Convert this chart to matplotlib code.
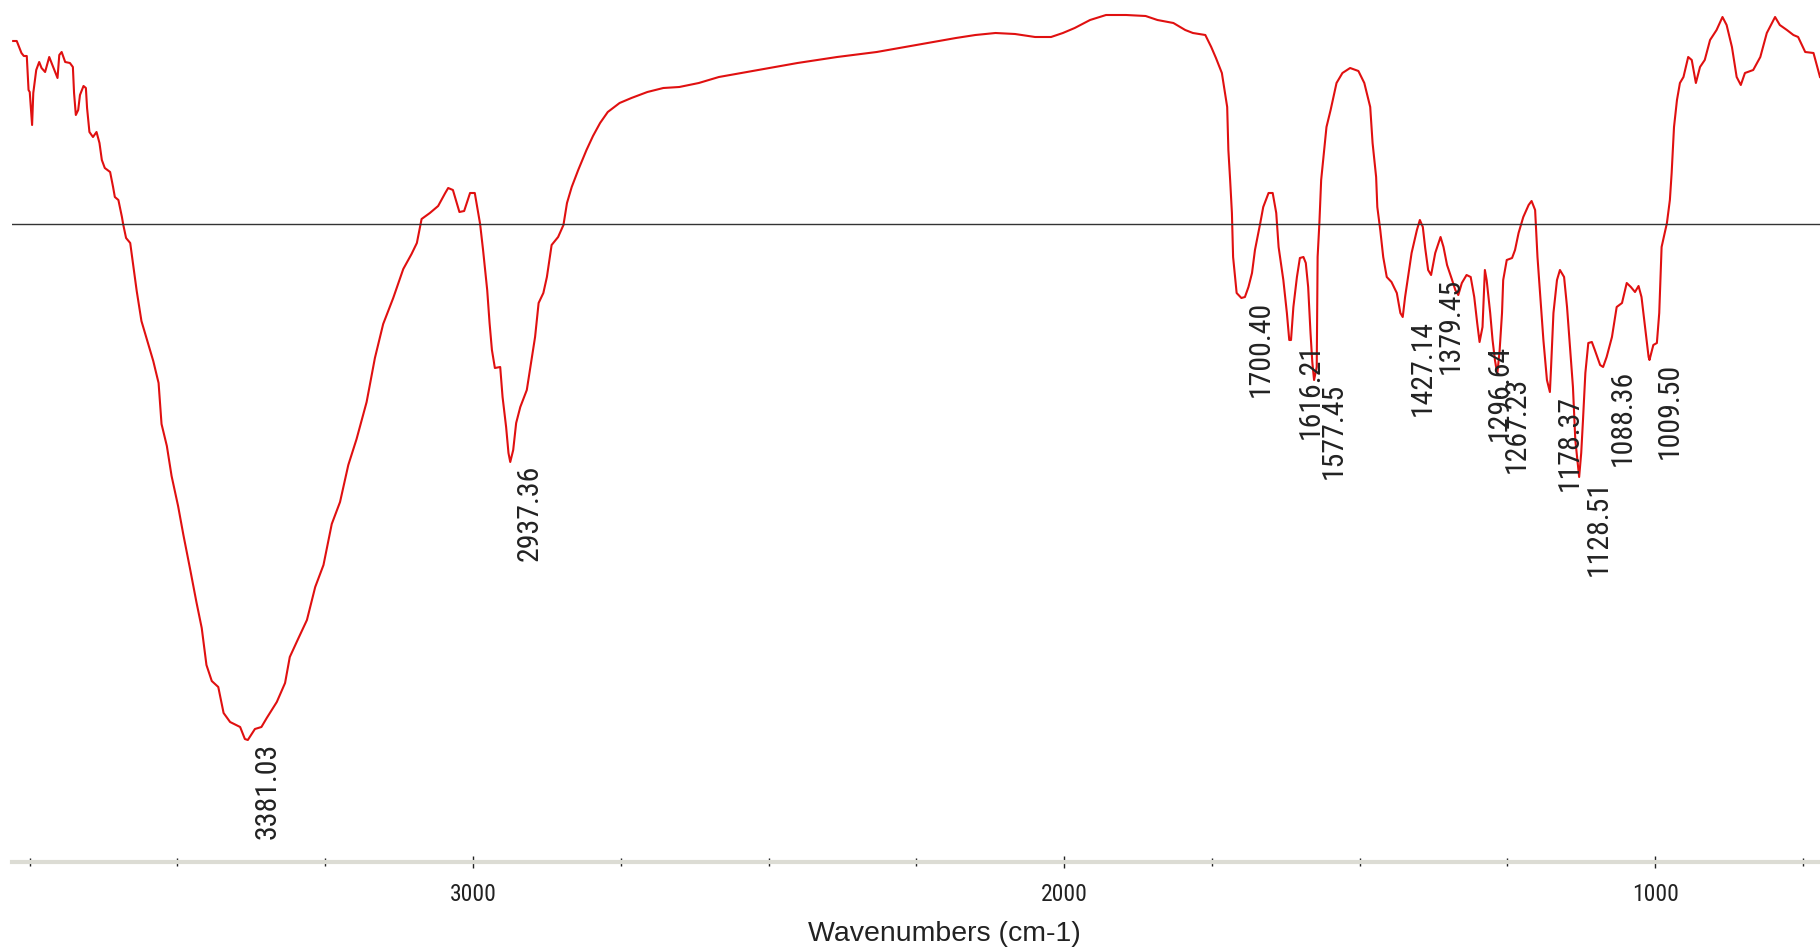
import matplotlib
matplotlib.use("Agg")
import matplotlib.pyplot as plt
from matplotlib import font_manager as fm

# FTIR spectrum (wavenumber cm-1, %T)
wavenumber = [
    3778, 3772, 3768, 3764, 3760, 3755, 3752, 3750, 3746, 3744, 3739, 3734, 3730, 3724,
    3717, 3713, 3707, 3703, 3700, 3696, 3690, 3682, 3677, 3675, 3672, 3668, 3665, 3659,
    3655, 3653, 3649, 3643, 3637, 3632, 3628, 3623, 3614, 3609, 3606, 3600, 3594, 3592,
    3587, 3580, 3575, 3569, 3561, 3552, 3541, 3532, 3527, 3518, 3510, 3499, 3490, 3479,
    3468, 3459, 3451, 3442, 3431, 3422, 3411, 3394, 3386, 3381, 3369, 3358, 3349, 3332,
    3318, 3310, 3296, 3281, 3267, 3253, 3239, 3225, 3211, 3197, 3180, 3166, 3152, 3135,
    3118, 3104, 3095, 3087, 3073, 3059, 3047, 3042, 3034, 3023, 3015, 3005, 2997, 2988,
    2983, 2976, 2972, 2968, 2963, 2954, 2950, 2944, 2940, 2937, 2932, 2927, 2920, 2909,
    2901, 2895, 2889, 2881, 2875, 2867, 2856, 2847, 2841, 2833, 2822, 2808, 2797, 2785,
    2772, 2752, 2732, 2705, 2678, 2651, 2618, 2584, 2517, 2451, 2384, 2317, 2250, 2183,
    2150, 2116, 2083, 2049, 2022, 2002, 1982, 1956, 1929, 1895, 1862, 1842, 1815, 1795,
    1782, 1761, 1751, 1743, 1733, 1724, 1722, 1719, 1716, 1714, 1708, 1700, 1694, 1688,
    1682, 1677, 1668, 1663, 1654, 1647, 1641, 1637, 1629, 1623, 1619, 1616, 1612, 1606,
    1601, 1595, 1591, 1587, 1583, 1580, 1577, 1572.5, 1571, 1568, 1565, 1556, 1549, 1539,
    1529, 1516, 1502, 1492, 1482, 1478, 1472, 1470, 1465, 1460, 1454, 1446, 1437, 1431,
    1427, 1423, 1417, 1412, 1403, 1398, 1393, 1389, 1384, 1379, 1372, 1363, 1358, 1352,
    1344, 1338, 1333, 1327, 1319, 1312, 1306, 1301, 1297, 1292, 1288, 1285, 1279, 1275,
    1271, 1267, 1263, 1259, 1257, 1251, 1242, 1237, 1231, 1223, 1214, 1209, 1203, 1199,
    1195, 1189, 1183, 1178, 1176, 1172, 1166, 1161, 1154, 1149, 1144, 1139, 1135, 1128.5,
    1125, 1122, 1118, 1113, 1107, 1102, 1093, 1088, 1082, 1073, 1065, 1056, 1048, 1041,
    1034, 1028, 1023, 1017, 1011, 1009.5, 1003, 997, 993, 989, 980, 975, 972, 968,
    963, 958, 952, 944, 938, 931, 924, 916, 907, 896, 886, 879, 870, 862,
    855, 848, 834, 822, 811, 797, 789, 777, 766, 758, 746, 732, 721,
]
transmittance = [
    82.1, 82.1, 81.5, 80.9, 80.6, 80.6, 77.2, 77.0, 73.7, 76.9, 79.2, 80.0, 79.4, 79.0,
    80.5, 79.9, 79.0, 78.4, 80.7, 81.0, 80.0, 79.9, 79.5, 76.9, 74.7, 75.2, 76.7, 77.6,
    77.4, 75.4, 73.0, 72.5, 73.0, 71.9, 70.2, 69.4, 69.0, 67.5, 66.5, 66.2, 64.5, 63.8,
    62.4, 61.9, 59.7, 57.1, 54.1, 52.3, 50.1, 47.9, 43.8, 41.6, 38.6, 35.6, 32.7, 29.4,
    26.0, 23.4, 19.7, 18.1, 17.5, 14.9, 14.0, 13.5, 12.3, 12.2, 13.3, 13.5, 14.4, 16.0,
    17.9, 20.5, 22.3, 24.2, 27.5, 29.7, 33.8, 36.0, 39.7, 42.3, 46.0, 50.4, 53.8, 56.4,
    59.3, 60.8, 61.9, 64.3, 64.9, 65.6, 66.9, 67.4, 67.2, 65.0, 65.1, 66.9, 66.9, 63.8,
    61.2, 57.2, 53.9, 51.2, 49.4, 49.5, 46.5, 43.5, 40.9, 40.0, 41.2, 43.9, 45.5, 47.2,
    50.2, 52.5, 55.9, 56.9, 58.5, 61.7, 62.5, 63.7, 65.9, 67.5, 69.2, 71.2, 72.6, 73.9,
    75.0, 75.9, 76.4, 77.0, 77.4, 77.5, 77.9, 78.5, 79.2, 79.9, 80.5, 81.0, 81.7, 82.4,
    82.7, 82.9, 82.8, 82.5, 82.5, 82.9, 83.4, 84.2, 84.7, 84.7, 84.6, 84.2, 83.9, 83.2,
    82.9, 82.7, 81.5, 80.4, 78.9, 75.5, 71.2, 68.2, 64.9, 60.5, 56.9, 56.4, 56.5, 57.5,
    58.9, 61.2, 63.9, 65.5, 66.9, 66.9, 64.9, 61.5, 58.2, 54.9, 52.2, 52.2, 55.5, 58.5,
    60.4, 60.5, 59.9, 57.5, 52.9, 50.0, 48.2, 49.5, 60.5, 63.9, 68.2, 73.5, 75.2, 77.9,
    78.9, 79.4, 79.1, 77.9, 75.5, 71.9, 68.5, 65.5, 63.2, 60.5, 58.5, 58.0, 56.9, 54.9,
    54.5, 56.5, 58.9, 60.9, 63.2, 64.2, 63.5, 61.4, 59.2, 58.7, 60.9, 62.5, 61.5, 59.7,
    58.3, 57.2, 56.7, 57.9, 58.7, 58.5, 56.5, 53.9, 52.0, 53.5, 59.2, 58.2, 54.9, 52.2,
    50.2, 48.8, 51.2, 54.9, 58.2, 60.2, 60.4, 61.2, 62.9, 64.5, 65.7, 66.1, 65.2, 60.5,
    57.2, 52.2, 48.2, 47.0, 49.5, 54.9, 58.2, 59.2, 58.5, 55.5, 51.5, 47.5, 42.2, 38.5,
    40.9, 44.2, 48.9, 51.9, 52.0, 51.2, 49.7, 49.5, 50.5, 52.5, 55.5, 55.9, 57.9, 57.5,
    57.0, 57.6, 56.5, 53.5, 50.5, 50.2, 51.7, 51.9, 54.9, 61.5, 63.9, 66.2, 68.9, 73.5,
    76.2, 77.9, 78.5, 80.5, 80.2, 77.9, 79.5, 80.2, 82.2, 83.2, 84.5, 83.7, 81.5, 78.5,
    77.7, 78.9, 79.2, 80.5, 82.9, 84.5, 83.7, 83.2, 82.7, 82.5, 81.0, 80.9, 78.5,
]

# labelled peaks
peak_wn = [3381.03, 2937.36, 1700.40, 1616.21, 1577.45, 1427.14, 1379.45,
           1296.64, 1267.23, 1178.37, 1128.51, 1088.36, 1009.50]
peak_T = [12.2, 40.0, 56.4, 52.2, 48.2, 54.5, 58.7, 52.0, 48.8, 47.0, 38.5, 49.5, 50.2]

baseline_T = 63.8


def pick_font(names):
    for n in names:
        try:
            fm.findfont(fm.FontProperties(family=n), fallback_to_default=False)
            return n
        except ValueError:
            pass
    return "DejaVu Sans"


narrow = pick_font(["Liberation Sans Narrow", "Roboto Condensed", "Liberation Sans"])
regular = pick_font(["Liberation Sans", "Arial"])

fig = plt.figure(figsize=(18.2, 9.49), dpi=100)
ax = fig.add_axes([12 / 1820, 87 / 949, 1808 / 1820, 862 / 949])

ax.plot(wavenumber, transmittance, color="#e01010", linewidth=1.5)
ax.axhline(baseline_T, color="#333333", linewidth=1.0)

# peak labels hang just below each minimum
for w, t in zip(peak_wn, peak_T):
    ax.annotate(f"{w:.2f}", xy=(w, t), xytext=(20, -3), textcoords="offset pixels",
                rotation=90, ha="center", va="top", fontsize=21.5,
                family=narrow, color="#222222")

ax.set_xlim(3780, 721)
ax.set_ylim(0, 86.2)

for s in ["top", "left", "right"]:
    ax.spines[s].set_visible(False)
ax.spines["bottom"].set_color("#dcdcd4")
ax.spines["bottom"].set_linewidth(3)

ax.set_yticks([])
ax.set_xticks([3000, 2000, 1000])
ax.set_xticks([3750, 3500, 3250, 2750, 2500, 2250, 1750, 1500, 1250, 750], minor=True)
ax.tick_params(axis="x", which="major", direction="inout", length=8.5, width=1.0,
               color="#222222", pad=11, labelsize=17)
ax.tick_params(axis="x", which="minor", direction="inout", length=5.5, width=1.0,
               color="#222222")
for lab in ax.get_xticklabels():
    lab.set_family(narrow)
    lab.set_color("#222222")

ax.set_xlabel("Wavenumbers (cm-1)", fontsize=20.5, family=regular, color="#222222")
ax.xaxis.set_label_coords(0.5155, -0.068)

fig.savefig("out.png", dpi=100, facecolor="white")
